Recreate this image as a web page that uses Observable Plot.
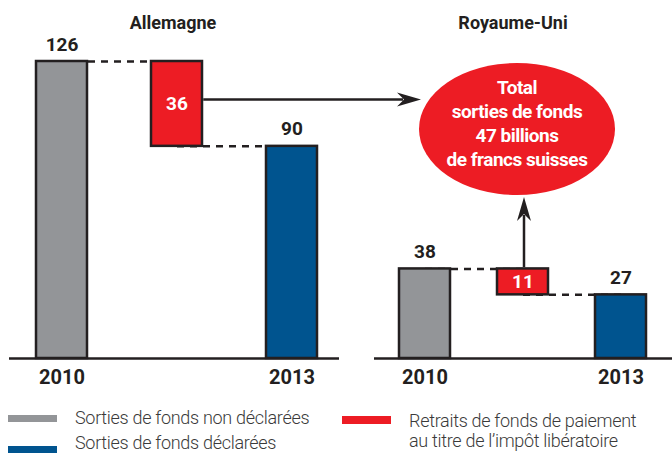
<!DOCTYPE html>
<html><head><meta charset="utf-8">
<script src="https://cdn.jsdelivr.net/npm/d3@7"></script>
<script src="https://cdn.jsdelivr.net/npm/@observablehq/plot@0.6"></script>
<style>
body{margin:0;background:#fff;}
#wrap{position:relative;width:672px;height:453px;overflow:hidden;font-family:Roboto,'DejaVu Sans Condensed',sans-serif;}
#wrap svg{position:absolute;top:0;overflow:visible;}
.lg{position:absolute;font-size:18px;line-height:20px;color:#3a3a3a;white-space:pre;font-weight:300;letter-spacing:-0.3px;}
.sw{position:absolute;}
</style></head><body><div id="wrap"></div>
<script>
const countries = ["Allemagne", "Royaume-Uni"];
const steps = ["2010", "retrait", "2013"];
const yearLabels = ["2010", "", "2013"];
const undeclared2010 = [126, 38];
const declared2013 = [90, 27];
const withdrawals = [36, 11];
const totalWithdrawals = 47;
const totalLines = ["Total", "sorties de fonds", totalWithdrawals + " billions", "de francs suisses"];
const kinds = ["Sorties de fonds non déclarées", "Retraits de fonds de paiement\nau titre de l’impôt libératoire", "Sorties de fonds déclarées"];
const kindColors = ["#939598", "#ed1c24", "#00548f"];

const FONT = "Roboto,'DejaVu Sans Condensed',sans-serif";
const INK = "#231f20";
const wrap = document.getElementById("wrap");

function panel(i, o) {
  const rows = [
    {step: steps[0], y1: 0, y2: undeclared2010[i], kind: kinds[0], label: undeclared2010[i]},
    {step: steps[1], y1: declared2013[i], y2: declared2013[i] + withdrawals[i], kind: kinds[1], label: withdrawals[i]},
    {step: steps[2], y1: 0, y2: declared2013[i], kind: kinds[2], label: declared2013[i]}
  ];
  const links = [
    {a: steps[0], b: steps[1], v: undeclared2010[i]},
    {a: steps[1], b: steps[2], v: declared2013[i]}
  ];
  const years = steps.map((s, k) => ({step: s, t: yearLabels[k]})).filter(d => d.t);
  return Plot.plot({
    width: o.width, height: 395,
    marginLeft: o.ml, marginRight: o.mr, marginTop: 61, marginBottom: 37,
    style: {background: "transparent", overflow: "visible", fontFamily: FONT},
    x: {domain: steps, paddingInner: o.pi, paddingOuter: o.po, align: o.align, axis: null},
    y: {domain: [0, 126], axis: null},
    color: {domain: kinds, range: kindColors},
    marks: [
      Plot.link(links, {x1: "a", x2: "b", y1: "v", y2: "v", stroke: INK, strokeWidth: 2.5, strokeDasharray: "7,6", strokeDashoffset: o.dash}),
      ...(o.extraBelow || []),
      Plot.ruleY([0], {stroke: INK, strokeWidth: 2.5}),
      Plot.rectY(rows, {x: "step", y1: "y1", y2: "y2", fill: "kind", stroke: INK, strokeWidth: 2.5}),
      Plot.text(rows.filter(d => d.kind !== kinds[1]), {x: "step", y: "y2", text: d => String(d.label), lineAnchor: "bottom", dy: -11, fontSize: 19, fontWeight: "bold", fill: INK, letterSpacing: -0.5}),
      Plot.text(rows.filter(d => d.kind === kinds[1]), {x: "step", y: d => (d.y1 + d.y2) / 2, text: d => String(d.label), lineAnchor: "middle", fontSize: 19, fontWeight: "bold", fill: "white", letterSpacing: -0.5}),
      Plot.text(years, {x: "step", y: 0, text: "t", lineAnchor: "bottom", dy: 25, fontSize: 20, fontWeight: "bold", fill: INK, letterSpacing: -0.5}),
      Plot.text([countries[i]], {x: () => steps[1], frameAnchor: "top", text: d => d, lineAnchor: "bottom", dy: -33, dx: o.tdx, fontSize: 18, fontWeight: "bold", fill: INK, letterSpacing: -0.5}),
      ...(o.extra || [])
    ]
  });
}

function head(g, x, y, angle) {
  g.append("path")
    .attr("d", "M0,0 L-24,-7 L-17,0 L-24,7 Z")
    .attr("transform", `translate(${x},${y}) rotate(${angle})`)
    .attr("fill", INK);
}

// horizontal arrow from Allemagne withdrawal bar to the total bubble
const hArrow = (index, {x, y}) => {
  const g = d3.create("svg:g");
  const bw = x.bandwidth();
  const x0 = x(steps[1]) + bw + 1.25;
  const yy = y((declared2013[0] + undeclared2010[0]) / 2) - 4;
  const tip = 421;
  g.append("line").attr("x1", x0).attr("x2", tip - 18).attr("y1", yy).attr("y2", yy)
    .attr("stroke", INK).attr("stroke-width", 2.5);
  head(g, tip, yy, 0);
  return g.node();
};

// bubble + vertical arrow in Royaume-Uni panel
const bubble = (index, {x, y}) => {
  const g = d3.create("svg:g");
  const bw = x.bandwidth();
  const cx = x(steps[1]) + bw / 2;
  const top = y(undeclared2010[1]) - 1.25;
  const tip = 197;
  g.append("line").attr("x1", cx + 1.5).attr("x2", cx + 1.5).attr("y1", top).attr("y2", tip + 18)
    .attr("stroke", INK).attr("stroke-width", 2.5);
  head(g, cx + 1.5, tip, -90);
  const ex = cx - 5.5, ey = 129;
  g.append("ellipse").attr("cx", ex).attr("cy", ey).attr("rx", 98).attr("ry", 66).attr("fill", "#ed1c24");
  const t = g.append("text").attr("text-anchor", "middle").attr("fill", "white")
    .attr("font-size", 19).attr("font-weight", "bold").attr("font-family", FONT).attr("letter-spacing", -0.5);
  totalLines.forEach((s, k) => t.append("tspan").attr("x", ex).attr("y", 94 + 24 * k).text(s));
  return g.node();
};

const left = panel(0, {width: 345, ml: 9, mr: 6, pi: 0.553, po: 0.21, align: 0.55, tdx: -4, dash: 0, extraBelow: [hArrow]});
const right = panel(1, {width: 327, ml: 29, mr: 0, pi: 0.478, po: 0.248, align: 0.485, tdx: -10, dash: 0, extra: [bubble]});
left.style.left = "0px";
right.style.left = "345px";
wrap.appendChild(left);
wrap.appendChild(right);

// legend
const legend = [
  {k: 0, sx: 8, sy: 415, sh: 7, tx: 75, ty: 408},
  {k: 2, sx: 8, sy: 446, sh: 7, tx: 75, ty: 433},
  {k: 1, sx: 342, sy: 416, sh: 8, tx: 409, ty: 411}
];
legend.forEach(l => {
  const s = document.createElement("div");
  s.className = "sw";
  Object.assign(s.style, {left: l.sx + "px", top: l.sy + "px", width: "49px", height: l.sh + "px", background: kindColors[l.k]});
  wrap.appendChild(s);
  const t = document.createElement("div");
  t.className = "lg";
  Object.assign(t.style, {left: l.tx + "px", top: l.ty + "px"});
  t.textContent = kinds[l.k];
  wrap.appendChild(t);
});
</script></body></html>
